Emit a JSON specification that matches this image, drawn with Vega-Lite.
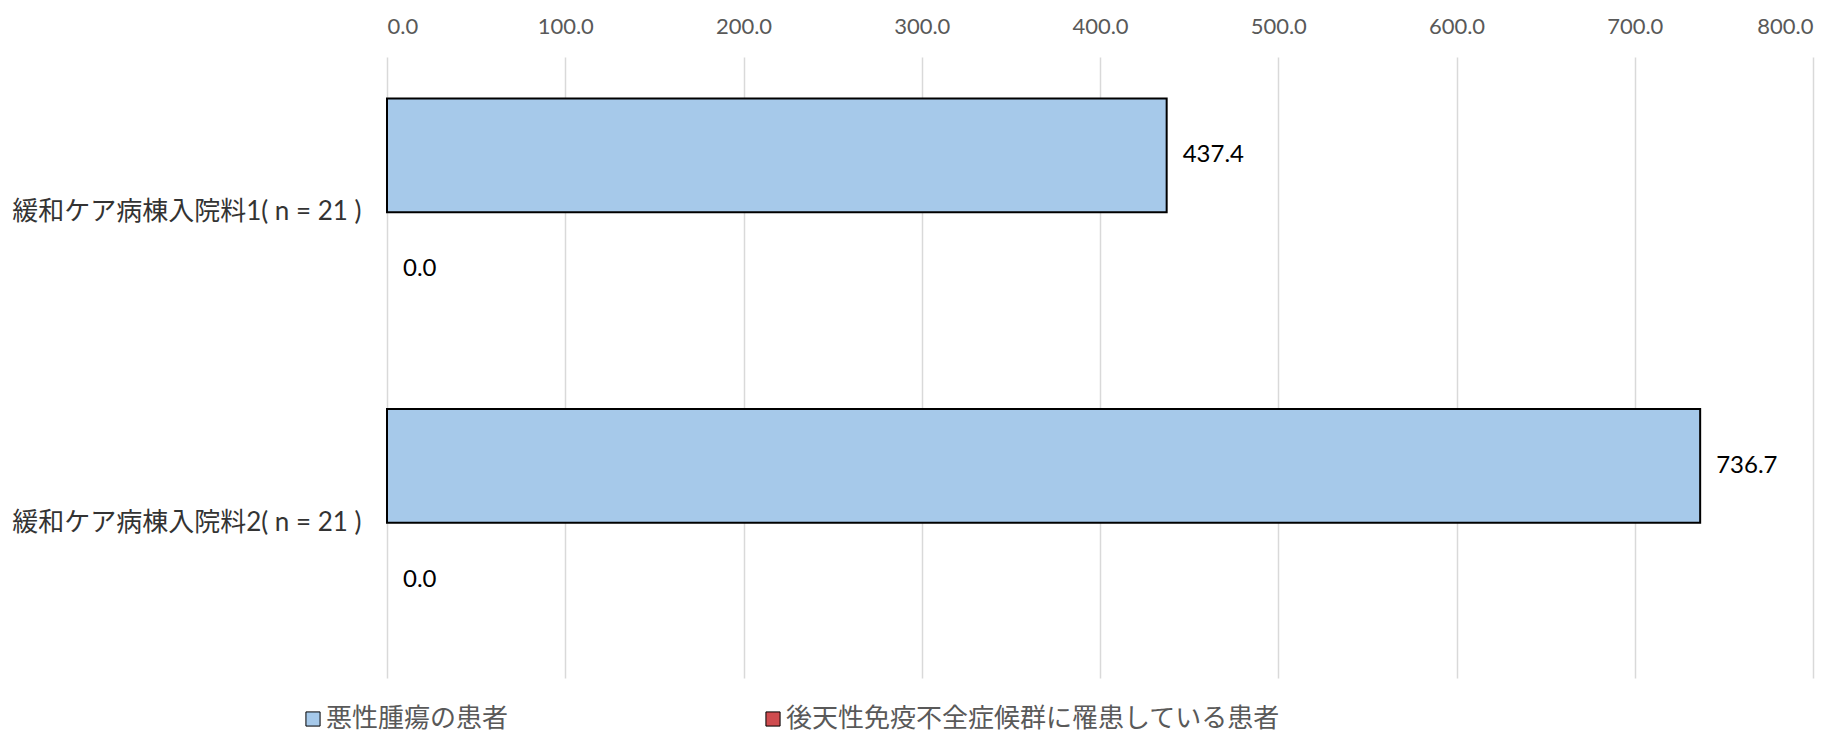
{
  "$schema": "https://vega.github.io/schema/vega-lite/v6.json",
  "width": 1426,
  "height": 621,
  "autosize": {"type": "none"},
  "padding": {"left": 387, "top": 57, "right": 31, "bottom": 56},
  "background": "white",
  "config": {"view": {"stroke": null}, "font": "Lato"},
  "data": {
    "values": [
      {"category": "緩和ケア病棟入院料1( n = 21 )", "series": "悪性腫瘍の患者", "value": 437.4},
      {"category": "緩和ケア病棟入院料1( n = 21 )", "series": "後天性免疫不全症候群に罹患している患者", "value": 0.0},
      {"category": "緩和ケア病棟入院料2( n = 21 )", "series": "悪性腫瘍の患者", "value": 736.7},
      {"category": "緩和ケア病棟入院料2( n = 21 )", "series": "後天性免疫不全症候群に罹患している患者", "value": 0.0}
    ]
  },
  "encoding": {
    "y": {
      "field": "category",
      "type": "nominal",
      "sort": null,
      "scale": {"paddingInner": 0, "paddingOuter": 0},
      "axis": {
        "orient": "left",
        "title": null,
        "ticks": false,
        "domain": false,
        "labelFont": "Lato, 'Noto Sans CJK JP'",
        "labelFontSize": 26,
        "labelColor": "#333333",
        "labelPadding": 26,
        "labelLimit": 1000
      }
    },
    "yOffset": {
      "field": "series",
      "type": "nominal",
      "sort": null,
      "scale": {"paddingInner": 0, "paddingOuter": 0.365}
    },
    "x": {
      "field": "value",
      "type": "quantitative",
      "scale": {"domain": [0, 800], "nice": false},
      "axis": {
        "orient": "top",
        "title": null,
        "values": [0, 100, 200, 300, 400, 500, 600, 700, 800],
        "format": ".1f",
        "ticks": false,
        "domain": false,
        "grid": true,
        "gridColor": "#D9D9D9",
        "gridWidth": 1.5,
        "labelFont": "Lato",
        "labelFontSize": 22,
        "labelColor": "#595959",
        "labelPadding": 19
      }
    }
  },
  "layer": [
    {
      "mark": {"type": "bar", "strokeWidth": 2},
      "encoding": {
        "color": {
          "field": "series",
          "type": "nominal",
          "sort": null,
          "scale": {
            "domain": ["悪性腫瘍の患者", "後天性免疫不全症候群に罹患している患者"],
            "range": ["#A6C9EA", "#CF4C4F"]
          },
          "legend": {
            "orient": "none",
            "legendX": -87,
            "legendY": 649,
            "direction": "horizontal",
            "columns": 2,
            "columnPadding": 251,
            "title": null,
            "padding": 0,
            "labelFont": "Noto Sans CJK JP",
            "labelFontSize": 26,
            "labelColor": "#595959",
            "labelLimit": 1000,
            "labelOffset": 0,
            "symbolType": "square",
            "symbolSize": 200,
            "symbolStrokeColor": "black",
            "symbolStrokeWidth": 1,
            "symbolOpacity": 1
          }
        },
        "stroke": {"condition": {"test": "datum.value > 0", "value": "black"}, "value": null}
      }
    },
    {
      "mark": {"type": "text", "align": "left", "baseline": "middle", "dx": 16, "fontSize": 24, "font": "Lato", "color": "#000000"},
      "encoding": {
        "text": {"field": "value", "type": "quantitative", "format": ".1f"}
      }
    }
  ]
}
